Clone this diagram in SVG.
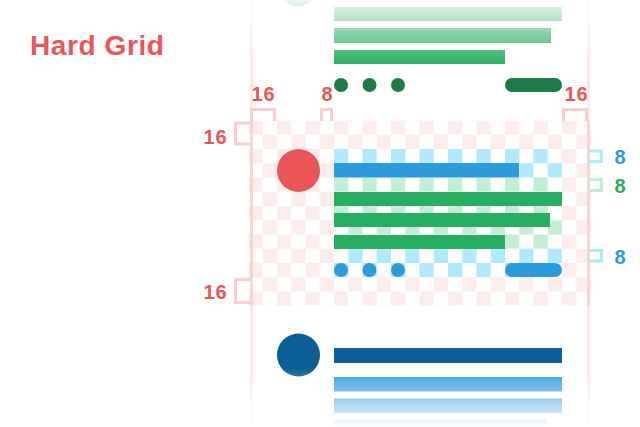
<svg xmlns="http://www.w3.org/2000/svg" width="640" height="427" viewBox="0 0 640 427">
  <style>
    .lbl { font-family: "Liberation Sans", Arial, sans-serif; font-weight: bold; }
    .num { font-size: 20px; }
    .red { fill: #ea5558; }
    .blue { fill: #2d9ade; }
    .green { fill: #27ae60; }
    .brk { fill: none; stroke-width: 3; }
    .bpink { stroke: #f9cdcd; }
    .bblue { stroke: #aee8fb; }
    .bgreen { stroke: #c3ecd4; }
  </style>
  <defs>
    <pattern id="pinkChk" patternUnits="userSpaceOnUse" x="248.5" y="120.5" width="28.5" height="28.5">
      <rect x="0" y="0" width="14.25" height="14.25" fill="#fdecec"/>
      <rect x="14.25" y="14.25" width="14.25" height="14.25" fill="#fdecec"/>
    </pattern>
    <pattern id="blueChk" patternUnits="userSpaceOnUse" x="248.5" y="120.5" width="28.5" height="28.5">
      <rect x="0" y="0" width="14.25" height="14.25" fill="#aee9fd"/>
      <rect x="14.25" y="14.25" width="14.25" height="14.25" fill="#aee9fd"/>
    </pattern>
    <pattern id="greenChk" patternUnits="userSpaceOnUse" x="248.5" y="120.5" width="28.5" height="28.5">
      <rect x="0" y="0" width="14.25" height="14.25" fill="#c3eed5"/>
      <rect x="14.25" y="14.25" width="14.25" height="14.25" fill="#c3eed5"/>
    </pattern>
    <linearGradient id="fadeTop" x1="0" y1="0" x2="0" y2="65" gradientUnits="userSpaceOnUse">
      <stop offset="0" stop-color="#fff" stop-opacity="0.93"/>
      <stop offset="1" stop-color="#fff" stop-opacity="0"/>
    </linearGradient>
    <linearGradient id="fadeBot" x1="0" y1="368" x2="0" y2="427" gradientUnits="userSpaceOnUse">
      <stop offset="0" stop-color="#fff" stop-opacity="0"/>
      <stop offset="1" stop-color="#fff" stop-opacity="1"/>
    </linearGradient>
  </defs>

  <rect width="640" height="427" fill="#ffffff"/>

  <text class="lbl red" x="30" y="55" font-size="28" letter-spacing="0.6">Hard Grid</text>

  <!-- card edges -->
  <g id="card-edges">
    <rect x="250" y="0" width="3" height="427" fill="#fde8e8"/>
    <rect x="587" y="0" width="3" height="427" fill="#fde8e8"/>
  </g>

  <!-- grid overlay -->
  <g id="grid">
    <rect x="248.5" y="120.5" width="342" height="185.25" fill="url(#pinkChk)"/>
    <rect x="334" y="149" width="228" height="128.25" fill="#ffffff"/>
    <rect x="334" y="149" width="228" height="28.5" fill="url(#blueChk)"/>
    <rect x="334" y="177.5" width="228" height="71.25" fill="url(#greenChk)"/>
    <rect x="334" y="248.75" width="228" height="28.5" fill="url(#blueChk)"/>
    <rect x="250" y="120.5" width="3" height="185.25" fill="#f9d4d4"/>
    <rect x="587" y="120.5" width="3" height="185.25" fill="#f9d4d4"/>
  </g>

  <!-- top card (faded) -->
  <g id="card-top">
    <circle cx="298" cy="-15" r="21" fill="#1e7b45"/>
    <rect x="334" y="7" width="228" height="14" fill="#27ae60"/>
    <rect x="334" y="28" width="217" height="15" fill="#27ae60"/>
    <rect x="334" y="50" width="171" height="14" fill="#27ae60"/>
    <rect x="240" y="0" width="360" height="66" fill="url(#fadeTop)"/>
    <circle cx="341" cy="85" r="7" fill="#1e7b45"/>
    <circle cx="369.5" cy="85" r="7" fill="#1e7b45"/>
    <circle cx="398" cy="85" r="7" fill="#1e7b45"/>
    <rect x="505" y="78" width="57" height="14" rx="7" fill="#1e7b45"/>
  </g>

  <!-- middle card -->
  <g id="card-middle">
    <circle cx="298.5" cy="170.5" r="21.5" fill="#ec5558"/>
    <rect x="334" y="163" width="185" height="14.5" fill="#2d9ade"/>
    <rect x="334" y="192" width="228" height="14" fill="#27ae60"/>
    <rect x="334" y="213" width="216" height="14" fill="#27ae60"/>
    <rect x="334" y="235" width="171" height="14" fill="#27ae60"/>
    <circle cx="341" cy="270" r="7" fill="#2d9ade"/>
    <circle cx="369.5" cy="270" r="7" fill="#2d9ade"/>
    <circle cx="398" cy="270" r="7" fill="#2d9ade"/>
    <rect x="505" y="263" width="57" height="14" rx="7" fill="#2d9ade"/>
  </g>

  <!-- bottom card (faded) -->
  <g id="card-bottom">
    <circle cx="298.5" cy="355" r="21.5" fill="#0b5f94"/>
    <rect x="334" y="348" width="228" height="15" fill="#0b5f94"/>
    <rect x="334" y="377" width="228" height="14.5" fill="#2d9ade"/>
    <rect x="334" y="398.5" width="228" height="14.5" fill="#2d9ade"/>
    <rect x="334" y="419.5" width="213" height="14" fill="#2d9ade"/>
    <rect x="240" y="366" width="360" height="61" fill="url(#fadeBot)"/>
  </g>

  <!-- dimension brackets -->
  <g id="connectors">
    <path class="brk bpink" d="M251.5,121 V109.5 H274.5 V121"/>
    <path class="brk bpink" d="M321.5,121 V109.5 H331.5 V121"/>
    <path class="brk bpink" d="M563.5,121 V109.5 H586.5 V121"/>
    <path class="brk bpink" d="M250,123 H235.5 V144 H250"/>
    <path class="brk bpink" d="M250,279.5 H235.5 V302.5 H250"/>
    <path class="brk bblue" d="M589,151 H601.5 V161.5 H589"/>
    <path class="brk bgreen" d="M589,179.5 H601.5 V190.5 H589"/>
    <path class="brk bblue" d="M589,250.5 H601.5 V261 H589"/>
  </g>

  <!-- dimension labels -->
  <g id="labels">
    <text class="lbl num red" x="263.5" y="100.5" text-anchor="middle" letter-spacing="1">16</text>
    <text class="lbl num red" x="327" y="100.5" text-anchor="middle">8</text>
    <text class="lbl num red" x="576.5" y="100.5" text-anchor="middle" letter-spacing="1">16</text>
    <text class="lbl num red" x="215.5" y="143.5" text-anchor="middle" letter-spacing="1">16</text>
    <text class="lbl num red" x="215.5" y="298.5" text-anchor="middle" letter-spacing="1">16</text>
    <text class="lbl num blue" x="620" y="163.5" text-anchor="middle">8</text>
    <text class="lbl num green" x="620" y="192.5" text-anchor="middle">8</text>
    <text class="lbl num blue" x="620" y="263.5" text-anchor="middle">8</text>
  </g>
</svg>
